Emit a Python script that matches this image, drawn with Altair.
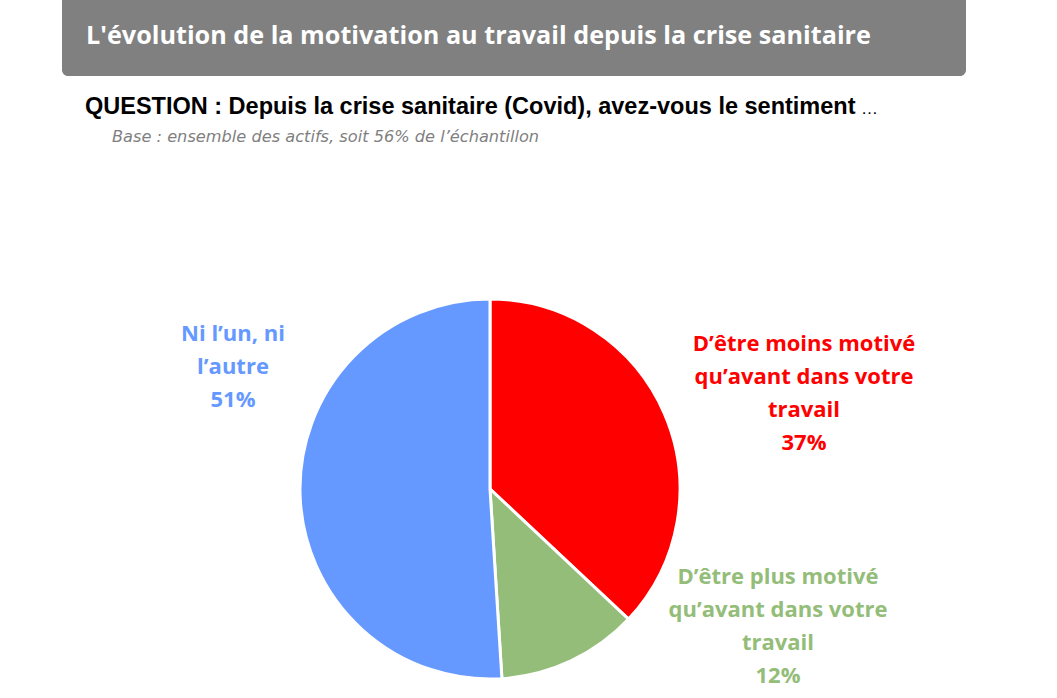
import altair as alt
import pandas as pd

categories = ["D’être moins motivé qu’avant dans votre travail",
              "D’être plus motivé qu’avant dans votre travail",
              "Ni l’un, ni l’autre"]
values = [37, 12, 51]
colors = ["#FF0000", "#93BD78", "#6699FF"]
label_lines = [
    ["D’être moins motivé", "qu’avant dans votre", "travail", "37%"],
    ["D’être plus motivé", "qu’avant dans votre", "travail", "12%"],
    ["Ni l’un, ni", "l’autre", "51%"],
]

title_text = "L'évolution de la motivation au travail depuis la crise sanitaire"
question_text = "QUESTION : Depuis la crise sanitaire (Covid), avez-vous le sentiment"
base_text = "Base : ensemble des actifs, soit 56% de l’échantillon"

df = pd.DataFrame({"cat": categories, "value": values, "order": [0, 1, 2]})

W, H = 1057, 698

pie = alt.Chart(df).mark_arc(outerRadius=190, stroke="white", strokeWidth=3).encode(
    theta=alt.Theta("value:Q", stack=True),
    order=alt.Order("order:Q"),
    color=alt.Color("cat:N", scale=alt.Scale(domain=categories, range=colors), legend=None),
    x=alt.value(490),
    y=alt.value(489),
)

dummy = pd.DataFrame({"a": [0]})

bar = alt.Chart(dummy).mark_rect(color="#808080", cornerRadius=6).encode(
    x=alt.value(62), x2=alt.value(966), y=alt.value(-10), y2=alt.value(76)
)

title = alt.Chart(dummy).mark_text(
    text=title_text, font="Open Sans", fontWeight="bold", fontSize=25.2, color="white",
    align="left", baseline="alphabetic"
).encode(x=alt.value(86), y=alt.value(44))

question = alt.Chart(dummy).mark_text(
    text=question_text, font="Liberation Sans", fontWeight="bold", fontSize=23.5, color="black",
    align="left", baseline="alphabetic"
).encode(x=alt.value(85), y=alt.value(114))

dots = alt.Chart(dummy).mark_text(
    text="…", font="Liberation Sans", fontSize=17, color="black",
    align="left", baseline="alphabetic"
).encode(x=alt.value(861), y=alt.value(114))

base = alt.Chart(dummy).mark_text(
    text=base_text, font="DejaVu Sans", fontStyle="italic", fontSize=16.2, color="#7F7F7F",
    align="left", baseline="alphabetic"
).encode(x=alt.value(112), y=alt.value(142))

label_pos = [(804, 344), (778, 577), (233, 334)]
labels = []
for lines, col, (lx, ly) in zip(label_lines, colors, label_pos):
    labels.append(
        alt.Chart(dummy).mark_text(
            text=lines, font="Open Sans", fontWeight="bold", fontSize=22, color=col,
            align="center", baseline="middle", lineHeight=33
        ).encode(x=alt.value(lx), y=alt.value(ly))
    )

chart = alt.layer(bar, title, question, dots, base, pie, *labels).properties(
    width=W, height=H, padding=0, autosize=alt.AutoSizeParams(type="none")
).configure_view(stroke=None)

chart.save("out.html", embed_options={"renderer": "svg", "actions": False})
